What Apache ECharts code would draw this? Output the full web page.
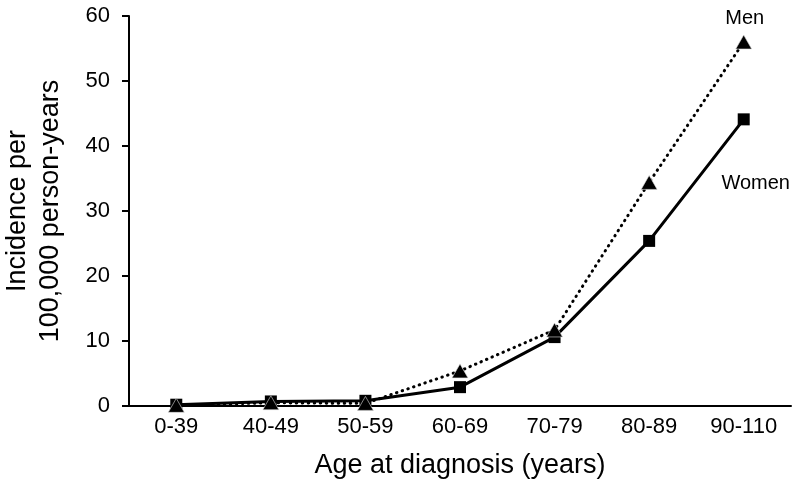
<!DOCTYPE html>
<html>
<head>
<meta charset="utf-8">
<script src="https://cdn.jsdelivr.net/npm/echarts@6/dist/echarts.min.js"></script>
<style>html,body{margin:0;padding:0;background:#fff;}#c{width:800px;height:487px;}</style>
</head>
<body>
<div id="c"></div>
<script>
var categories = ['0-39', '40-49', '50-59', '60-69', '70-79', '80-89', '90-110'];
var men = [0.1, 0.5, 0.4, 5.4, 11.7, 34.4, 56.0];
var women = [0.2, 0.7, 0.8, 2.9, 10.6, 25.4, 44.1];
var yTicks = { min: 0, max: 60, interval: 10 };

var chart = echarts.init(document.getElementById('c'), null, { renderer: 'canvas' });
var font = 'Liberation Sans, Arial, sans-serif';
chart.setOption({
  animation: false,
  backgroundColor: '#fff',
  grid: { left: 129, right: 9, top: 16, bottom: 81, containLabel: false, outerBoundsMode: 'none' },
  xAxis: {
    type: 'category',
    data: categories,
    boundaryGap: true,
    axisLine: { lineStyle: { color: '#000', width: 2 } },
    axisTick: { show: false },
    axisLabel: { color: '#000', fontSize: 22, fontFamily: font, margin: 10 },
    name: 'Age at diagnosis (years)',
    nameLocation: 'middle',
    nameGap: 46,
    nameTextStyle: { color: '#000', fontSize: 27, fontFamily: font }
  },
  yAxis: {
    type: 'value',
    min: yTicks.min, max: yTicks.max, interval: yTicks.interval,
    axisLine: { show: true, lineStyle: { color: '#000', width: 2 } },
    axisTick: { show: true, length: 7, lineStyle: { color: '#000', width: 2 } },
    splitLine: { show: false },
    axisLabel: { color: '#000', fontSize: 22, fontFamily: font, margin: 19 },
    name: 'Incidence per\n100,000 person-years',
    nameLocation: 'middle',
    nameGap: 62,
    nameTextStyle: { color: '#000', fontSize: 27, fontFamily: font, lineHeight: 33 }
  },
  series: [
    {
      name: 'Women', type: 'line', data: women,
      symbol: 'rect', symbolSize: 12,
      itemStyle: { color: '#000' },
      lineStyle: { color: '#000', width: 3 },
      z: 2
    },
    {
      name: 'Men', type: 'line', data: men,
      symbol: 'triangle', symbolSize: [16, 14],
      itemStyle: { color: '#000', borderColor: '#ddd', borderWidth: 0.6 },
      lineStyle: { color: '#000', width: 3, type: [0.5, 5.5], cap: 'round' },
      z: 3
    }
  ]
});

function placeLabels() {
  var last = categories.length - 1;
  var pm = chart.convertToPixel({ gridIndex: 0 }, [last, men[last]]);
  var pw = chart.convertToPixel({ gridIndex: 0 }, [last, women[last]]);
  chart.setOption({
    graphic: [
      { type: 'text', x: pm[0] + 1, y: pm[1] - 24, style: { text: 'Men', font: '20px ' + font, fill: '#000', textAlign: 'center', textVerticalAlign: 'middle' } },
      { type: 'text', x: pw[0] + 12, y: pw[1] + 64, style: { text: 'Women', font: '20px ' + font, fill: '#000', textAlign: 'center', textVerticalAlign: 'middle' } }
    ]
  });
}
placeLabels();
</script>
</body>
</html>
